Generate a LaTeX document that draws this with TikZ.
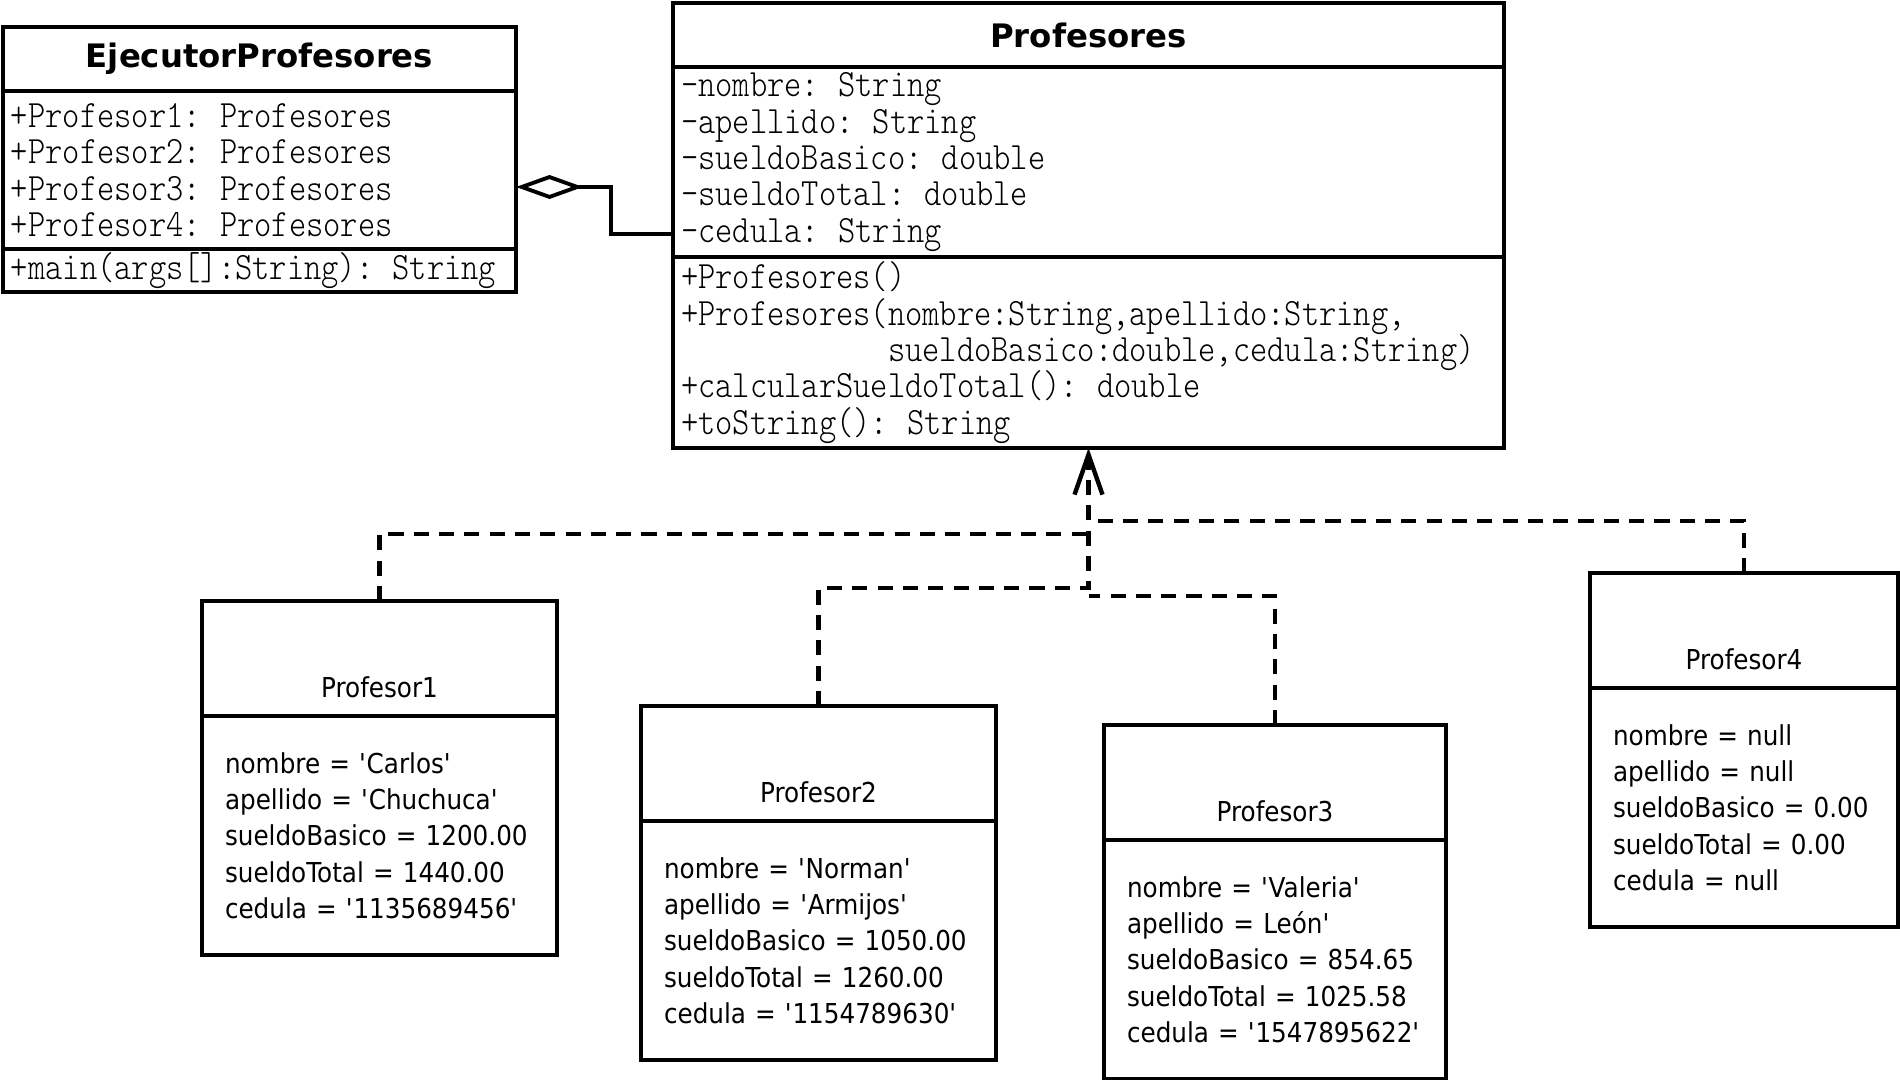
\documentclass[tikz,border=0pt]{standalone}
\usepackage{fontspec}
\setmainfont{DejaVu Sans}
\newfontfamily\objfont{DejaVu Sans}[FakeStretch=0.9]
\newfontfamily\codefont{lmmonolt10-regular.otf}[FakeStretch=0.85]
\usetikzlibrary{arrows.meta,positioning}
\newcommand{\tq}{\textquotesingle}

\begin{document}
\begin{tikzpicture}[x=1cm,y=1cm,
    box/.style={draw,line width=1pt,inner sep=0pt,outer sep=0pt},
    title/.style={box,minimum height=6.4mm,font=\fontsize{9.2}{11}\selectfont\bfseries},
    members/.style={box,align=left,inner xsep=0.8mm,font=\codefont\fontsize{11}{10.34}\selectfont},
    objname/.style={box,text height=9.7mm,text depth=1.8mm,font=\objfont\fontsize{7.8}{10.34}\selectfont},
    slots/.style={box,align=left,inner xsep=2.3mm,font=\objfont\fontsize{7.8}{10.34}\selectfont},
    dep/.style={line width=1.25pt,dash pattern=on 4.3pt off 2.9pt},
    agg/.style={line width=1.1pt,-{Diamond[open,length=6.7mm,width=2.4mm]}}]
  \useasboundingbox (0,0) rectangle (19,10.8);

  % clase ejecutora
  \node[title,minimum width=5.13cm,anchor=north west] (ejec) at (0.03,10.53) {EjecutorProfesores};
  \node[members,text width=4.97cm,minimum height=1.58cm,below=0pt of ejec] (eattr)
    {+Profesor1: Profesores\\+Profesor2: Profesores\\+Profesor3: Profesores\\+Profesor4: Profesores};
  \node[members,text width=4.97cm,minimum height=4.3mm,below=0pt of eattr] (eops)
    {+main(args[]:String): String};

  % clase Profesores
  \node[title,minimum width=8.31cm,anchor=north west] (prof) at (6.73,10.77) {Profesores};
  \node[members,text width=8.15cm,minimum height=1.9cm,below=0pt of prof] (pattr)
    {-nombre: String\\-apellido: String\\-sueldoBasico: double\\-sueldoTotal: double\\-cedula: String};
  \node[members,text width=8.15cm,minimum height=1.91cm,below=0pt of pattr] (pops)
    {+Profesores()\\+Profesores(nombre:String,apellido:String,\\
     \phantom{+Profesores(}sueldoBasico:double,cedula:String)\\
     +calcularSueldoTotal(): double\\+toString(): String};

  % objetos
  \node[objname,minimum width=3.55cm,anchor=north west] (p1) at (2.02,4.79) {Profesor1};
  \node[slots,text width=3.09cm,minimum height=2.39cm,below=0pt of p1] (p1a)
    {nombre = \tq Carlos\tq\\apellido = \tq Chuchuca\tq\\sueldoBasico = 1200.00\\sueldoTotal = 1440.00\\cedula = \tq 1135689456\tq};
  \node[objname,minimum width=3.55cm,anchor=north west] (p2) at (6.41,3.74) {Profesor2};
  \node[slots,text width=3.09cm,minimum height=2.39cm,below=0pt of p2] (p2a)
    {nombre = \tq Norman\tq\\apellido = \tq Armijos\tq\\sueldoBasico = 1050.00\\sueldoTotal = 1260.00\\cedula = \tq 1154789630\tq};
  \node[objname,minimum width=3.42cm,anchor=north west] (p3) at (11.04,3.55) {Profesor3};
  \node[slots,text width=2.96cm,minimum height=2.39cm,below=0pt of p3] (p3a)
    {nombre = \tq Valeria\tq\\apellido = León\tq\\sueldoBasico = 854.65\\sueldoTotal = 1025.58\\cedula = \tq 1547895622\tq};
  \node[objname,minimum width=3.08cm,anchor=north west] (p4) at (15.90,5.07) {Profesor4};
  \node[slots,text width=2.62cm,minimum height=2.39cm,below=0pt of p4] (p4a)
    {nombre = null\\apellido = null\\sueldoBasico = 0.00\\sueldoTotal = 0.00\\cedula = null};

  % relaciones
  \draw[agg] ([yshift=2.3mm]pattr.south west) -| ([xshift=9.5mm,yshift=-1.7mm]eattr.east)
    -- ([yshift=-1.7mm]eattr.east);
  \coordinate (hub) at (pops.south |- 0,4.92);
  \draw[dep,-{Straight Barb[length=4mm,width=2.8mm]}] (p2.north) |- (hub) -- (pops.south);
  \draw[dep] (p1.north) |- (pops.south |- 0,5.46);
  \draw[dep] (p3.north) |- (pops.south |- 0,4.84);
  \draw[dep] (p4.north) |- (pops.south |- 0,5.59);
\end{tikzpicture}
\end{document}
